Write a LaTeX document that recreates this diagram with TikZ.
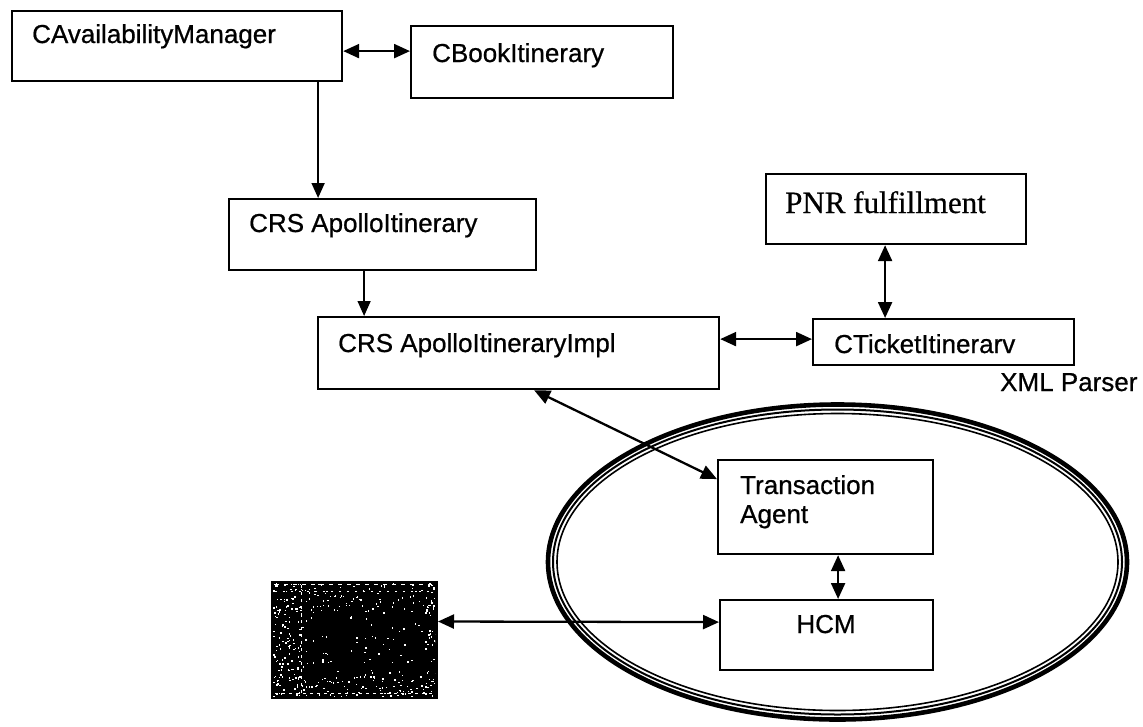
\documentclass[tikz,border=0pt]{standalone}
\usepackage{fontspec}
\setmainfont{Liberation Sans}[FakeBold=0.7]
\newfontfamily\serifface{Liberation Serif}[FakeBold=0.5]
\usetikzlibrary{arrows.meta}

\begin{document}
\begin{tikzpicture}[x=1pt,y=-1pt,
  box/.style={draw, line width=2.2pt, rectangle, anchor=north west, inner sep=0pt},
  lbl/.style={anchor=base west, inner sep=0pt, font=\fontsize{26}{30}\selectfont},
  link/.style={line width=2.3pt, {Triangle[length=16pt,width=14pt]}-{Triangle[length=16pt,width=14pt]}},
  feed/.style={line width=1.8pt, -{Triangle[length=15pt,width=13pt]}},
  thinfeed/.style={line width=1.4pt, -{Triangle[length=15pt,width=13pt]}},
]
\useasboundingbox (0,0) rectangle (1143,726);

% XML parser boundary: three concentric rings
\draw[line width=4.6pt] (837.5,562) ellipse [x radius=289.5pt, y radius=157.5pt];
\draw[line width=2pt]   (837.5,562) ellipse [x radius=284.5pt, y radius=152.5pt];
\draw[line width=1.6pt] (837.5,562) ellipse [x radius=280.5pt, y radius=148.5pt];

% class boxes
\node[box, minimum width=330pt, minimum height=70pt] (avail)  at (11,10)   {};
\node[box, minimum width=262pt, minimum height=72pt] (book)   at (410,25)  {};
\node[box, minimum width=307pt, minimum height=71pt] (apollo) at (228,198) {};
\node[box, minimum width=401pt, minimum height=72pt] (impl)   at (317,316) {};
\node[box, minimum width=260pt, minimum height=70pt] (pnr)    at (765,173) {};
\node[box, minimum width=261pt, minimum height=46pt] (ticket) at (812,318) {};
\node[box, minimum width=215pt, minimum height=94pt] (agent)  at (717,459) {};
\node[box, minimum width=213pt, minimum height=70pt] (hcm)    at (719,599) {};

% host terminal screen
\node[fill=black, draw=black, line width=1pt, anchor=north west, inner sep=0pt,
      minimum width=166pt, minimum height=117pt] (screen) at (271,581) {};
\begin{scope}
  \clip (273,583) rectangle (435,696);
  \pgfmathsetseed{11}
  \foreach \i in {1,...,120} {
    \pgfmathsetmacro\px{273+162*rnd}
    \pgfmathsetmacro\py{583+113*rnd}
    \fill[white] (\px,\py) rectangle ++(1.4,1.4);
  }
  \foreach \i in {1,...,100} {
    \pgfmathsetmacro\px{273+28*rnd}
    \pgfmathsetmacro\py{583+113*rnd}
    \fill[white] (\px,\py) rectangle ++(1.6,1.6);
  }
  \foreach \i in {1,...,90} {
    \pgfmathsetmacro\px{273+162*rnd}
    \pgfmathsetmacro\py{676+20*rnd}
    \fill[white] (\px,\py) rectangle ++(1.6,1.4);
  }
  \foreach \i in {1,...,60} {
    \pgfmathsetmacro\px{273+162*rnd}
    \pgfmathsetmacro\py{583+30*rnd}
    \fill[white] (\px,\py) rectangle ++(1.5,1.2);
  }
  \foreach \i in {1,...,40} {
    \pgfmathsetmacro\px{425+10*rnd}
    \pgfmathsetmacro\py{583+113*rnd}
    \fill[white] (\px,\py) rectangle ++(1.4,1.6);
  }
  \draw[white, line width=0.8pt, dash pattern=on 3pt off 4pt] (301,585) -- (301,696);
  \draw[white, line width=0.8pt, dash pattern=on 4pt off 5pt] (275,584) -- (433,584);
  \draw[white, line width=0.8pt, dash pattern=on 2pt off 6pt] (275,591) -- (433,591);
  \draw[white, line width=0.8pt, dash pattern=on 3pt off 4pt] (275,693) -- (433,693);
\end{scope}

% labels
\node[lbl] (availtext)  at (32,43)   {CAvailabilityManager};
\node[lbl] (booktext)   at (432,62)  {CBookItinerary};
\node[lbl] (apollotext) at (249,232) {CRS ApolloItinerary};
\node[lbl] (impltext)   at (338,352) {CRS ApolloItineraryImpl};
\node[lbl, font=\serifface\fontsize{31}{36}\selectfont] (pnrtext) at (785,213) {PNR fulfillment};
\node[lbl] (tickettext) at (834,353) {CTicketItinerarv};
\node[lbl] (agenttext1) at (740,494) {Transaction};
\node[lbl] (agenttext2) at (740,523) {Agent};
\node[anchor=base, inner sep=0pt, font=\fontsize{26}{30}\selectfont] (hcmtext) at (826,633) {HCM};
\node[lbl] (parsertext) at (1000,391) {XML Parser};

% connectors
\draw[link] ([yshift=-5pt]avail.east) -- ([yshift=11pt]book.west);
\draw[feed] ([xshift=141pt]avail.south) -- ([xshift=-64.5pt]apollo.north);
\draw[thinfeed] ([xshift=-18.5pt]apollo.south) -- ([xshift=-154.5pt]impl.north);
\draw[link] ([yshift=14pt]impl.east) -- ([yshift=3pt]ticket.west);
\draw[link] ([xshift=-11pt]pnr.south) -- ([xshift=-58.5pt]ticket.north);
\draw[link] ([xshift=15.5pt]impl.south) -- ([yshift=28pt]agent.west);
\draw[link] ([xshift=12.5pt]agent.south) -- ([xshift=11.5pt]hcm.north);
\draw[link] ([yshift=18.5pt]screen.east) -- ([yshift=13pt]hcm.west);
\end{tikzpicture}
\end{document}
